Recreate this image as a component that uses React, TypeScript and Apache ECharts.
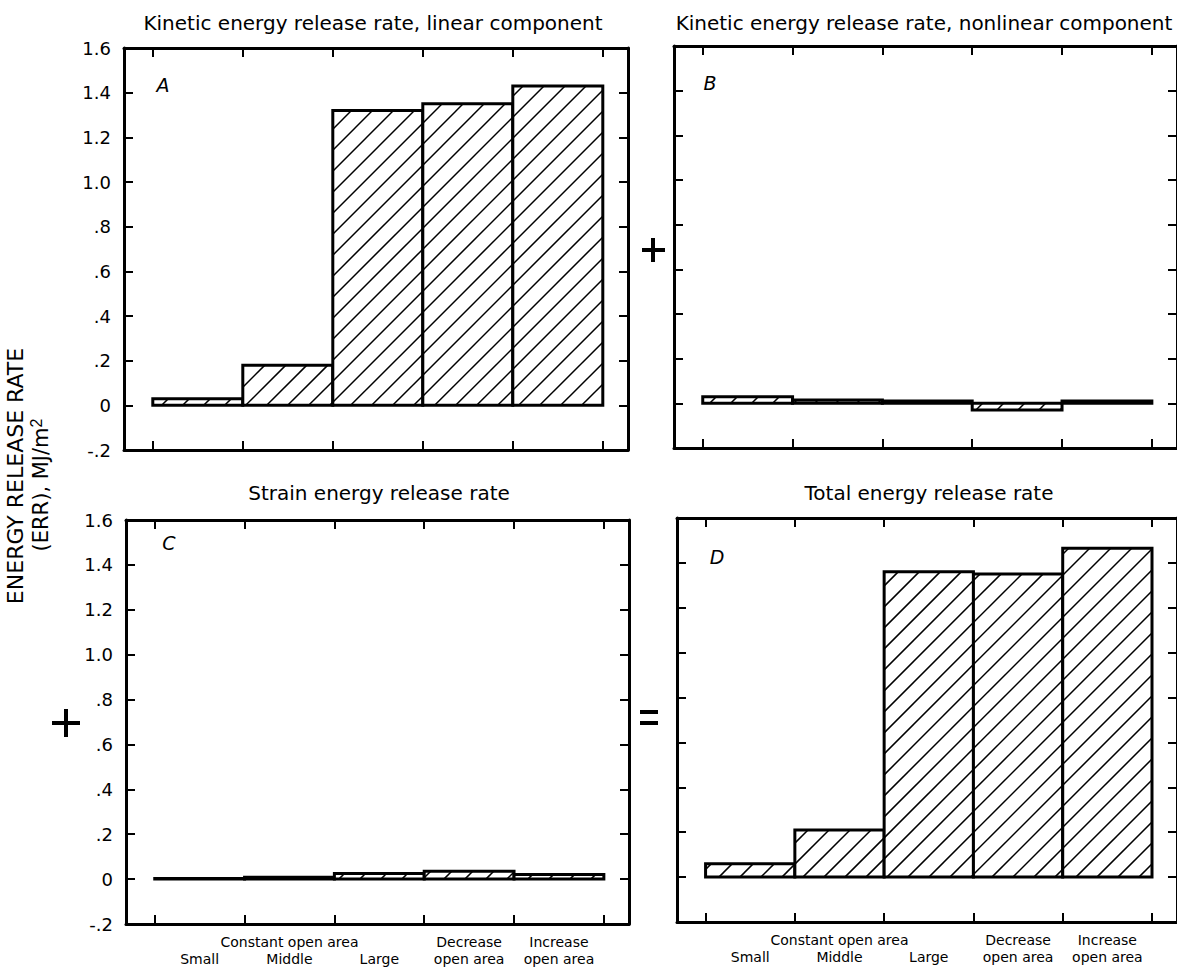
import React, { useEffect, useRef } from "react";
import * as echarts from "echarts";

// ---- data ----
const categories = ["Small", "Middle", "Large", "Decrease open area", "Increase open area"];
const xTickLabels = ["\nSmall", "Constant open area\nMiddle", "\nLarge", "Decrease\nopen area", "Increase\nopen area"];
const linearKinetic = [0.03, 0.18, 1.32, 1.35, 1.43];
const nonlinearKinetic = [0.03, 0.015, 0.01, -0.03, 0.01];
const strainEnergy = [0.003, 0.008, 0.025, 0.035, 0.02];
const totalEnergy = [0.06, 0.21, 1.36, 1.35, 1.465];
const yTickValues = [-0.2, 0, 0.2, 0.4, 0.6, 0.8, 1.0, 1.2, 1.4, 1.6];
const yTickLabels = ["-.2", "0", ".2", ".4", ".6", ".8", "1.0", "1.2", "1.4", "1.6"];
const panelTitles = [
  "Kinetic energy release rate, linear component",
  "Kinetic energy release rate, nonlinear component",
  "Strain energy release rate",
  "Total energy release rate",
];
const panelLetters = ["A", "B", "C", "D"];

const FONT = "DejaVu Sans";
const HATCH = 21;

function yLabel(v: number): string {
  let best = 0;
  let d = Infinity;
  yTickValues.forEach((t, i) => {
    const dd = Math.abs(t - v);
    if (dd < d) { d = dd; best = i; }
  });
  return yTickLabels[best];
}

function renderBar(params: any, api: any) {
  const i = api.value(0);
  const v = api.value(1);
  const p0 = api.coord([i, 0]);
  const p1 = api.coord([i + 1, v]);
  const x0 = Math.min(p0[0], p1[0]);
  const x1 = Math.max(p0[0], p1[0]);
  const y0 = Math.min(p0[1], p1[1]);
  const y1 = Math.max(p0[1], p1[1]);
  const children: any[] = [
    { type: "rect", shape: { x: x0, y: y0, width: x1 - x0, height: y1 - y0 }, style: { fill: "#fff" } },
  ];
  const cStart = Math.ceil((x0 + y0) / HATCH) * HATCH;
  for (let c = cStart; c <= x1 + y1; c += HATCH) {
    const xa = Math.max(x0, c - y1);
    const xb = Math.min(x1, c - y0);
    if (xb - xa > 0.5) {
      children.push({
        type: "line",
        shape: { x1: xa, y1: c - xa, x2: xb, y2: c - xb },
        style: { stroke: "#000", lineWidth: 1.5 },
      });
    }
  }
  children.push({
    type: "rect",
    shape: { x: x0, y: y0, width: x1 - x0, height: y1 - y0 },
    style: { fill: "none", stroke: "#000", lineWidth: 3, lineJoin: "miter" },
  });
  return { type: "group", children };
}

export default function App() {
  const ref = useRef<HTMLDivElement>(null);
  useEffect(() => {
    if (!ref.current) return;
    const chart = echarts.init(ref.current, null, { renderer: "svg" });

    const panelData = [linearKinetic, nonlinearKinetic, strainEnergy, totalEnergy];
    const grids = [
      { left: 124, top: 48, width: 504, height: 402 },
      { left: 674, top: 46, width: 504, height: 402 },
      { left: 126, top: 520, width: 503, height: 404 },
      { left: 677, top: 518, width: 504, height: 404 },
    ];
    const showY = [true, false, true, false];
    const showX = [false, false, true, true];
    const titlePos = [
      [373, 23],
      [924, 23],
      [379, 493],
      [929, 493],
    ];
    const letterPos = [
      [163, 85],
      [710, 83],
      [169, 543],
      [717, 557],
    ];

    const xAxes: any[] = [];
    const yAxes: any[] = [];
    const series: any[] = [];
    grids.forEach((g, k) => {
      const common = {
        gridIndex: k,
        type: "value",
        min: -0.32,
        max: 5.28,
        splitLine: { show: false },
        axisLine: { show: true, onZero: false, lineStyle: { color: "#000", width: 3 } },
        axisTick: {
          show: true,
          inside: true,
          length: 9,
          lineStyle: { color: "#000", width: 2 },
          customValues: [0, 1, 2, 3, 4, 5],
        },
      };
      xAxes.push({
        ...common,
        position: "bottom",
        axisLabel: {
          show: showX[k],
          customValues: [0.5, 1.5, 2.5, 3.5, 4.5],
          formatter: (v: number) => xTickLabels[Math.round(v - 0.5)] ?? "",
          color: "#000",
          fontFamily: FONT,
          fontSize: 14,
          lineHeight: 17,
          margin: 9,
        },
      });
      xAxes.push({ ...common, position: "top", axisLabel: { show: false } });
      const ycommon = {
        gridIndex: k,
        type: "value",
        min: -0.2,
        max: 1.6,
        interval: 0.2,
        splitLine: { show: false },
        axisLine: { show: true, onZero: false, lineStyle: { color: "#000", width: 3 } },
        axisTick: { show: true, inside: true, length: 9, lineStyle: { color: "#000", width: 2 } },
      };
      yAxes.push({
        ...ycommon,
        position: "left",
        axisLabel: {
          show: showY[k],
          formatter: (v: number) => yLabel(v),
          color: "#000",
          fontFamily: FONT,
          fontSize: 18,
          margin: 13,
        },
      });
      yAxes.push({ ...ycommon, position: "right", axisLabel: { show: false } });
      series.push({
        type: "custom",
        name: panelTitles[k],
        xAxisIndex: 2 * k,
        yAxisIndex: 2 * k,
        clip: false,
        renderItem: renderBar,
        data: panelData[k].map((v, i) => [i, v, categories[i]]),
      });
    });

    const graphics: any[] = [];
    panelTitles.forEach((t, k) => {
      graphics.push({
        type: "text",
        x: titlePos[k][0],
        y: titlePos[k][1],
        style: {
          text: t,
          fill: "#000",
          font: `20px "${FONT}"`,
          textAlign: "center",
          textVerticalAlign: "middle",
        },
      });
      graphics.push({
        type: "text",
        x: letterPos[k][0],
        y: letterPos[k][1],
        style: {
          text: panelLetters[k],
          fill: "#000",
          font: `italic 19px "${FONT}"`,
          textAlign: "center",
          textVerticalAlign: "middle",
        },
      });
    });
    graphics.push({
      type: "text",
      x: 15,
      y: 476,
      rotation: Math.PI / 2,
      style: {
        text: "ENERGY RELEASE RATE",
        fill: "#000",
        font: `22px "${FONT}"`,
        textAlign: "center",
        textVerticalAlign: "middle",
      },
    });
    graphics.push({
      type: "text",
      x: 41,
      y: 485,
      rotation: Math.PI / 2,
      style: {
        text: "(ERR), MJ/m{sup|2}",
        rich: { sup: { fontSize: 16, verticalAlign: "top", padding: [0, 0, 10, 0] } },
        fill: "#000",
        font: `21px "${FONT}"`,
        textAlign: "center",
        textVerticalAlign: "middle",
      },
    });
    const ln = (x1: number, y1: number, x2: number, y2: number, w: number) => ({
      type: "line",
      shape: { x1, y1, x2, y2 },
      style: { stroke: "#000", lineWidth: w },
    });
    // plus between A and B
    graphics.push(ln(642, 250, 665, 250, 4));
    graphics.push(ln(653, 238, 653, 262, 4));
    // plus left of C
    graphics.push(ln(52, 723, 80, 723, 4));
    graphics.push(ln(66, 709, 66, 737, 4));
    // equals between C and D
    graphics.push(ln(640, 712, 658, 712, 4));
    graphics.push(ln(640, 723, 658, 723, 4));

    chart.setOption({
      animation: false,
      backgroundColor: "#fff",
      grid: grids,
      xAxis: xAxes,
      yAxis: yAxes,
      series,
      graphic: graphics,
    });
    return () => chart.dispose();
  }, []);
  return <div ref={ref} style={{ position: "absolute", left: 0, top: 0, width: 1177, height: 972 }} />;
}
